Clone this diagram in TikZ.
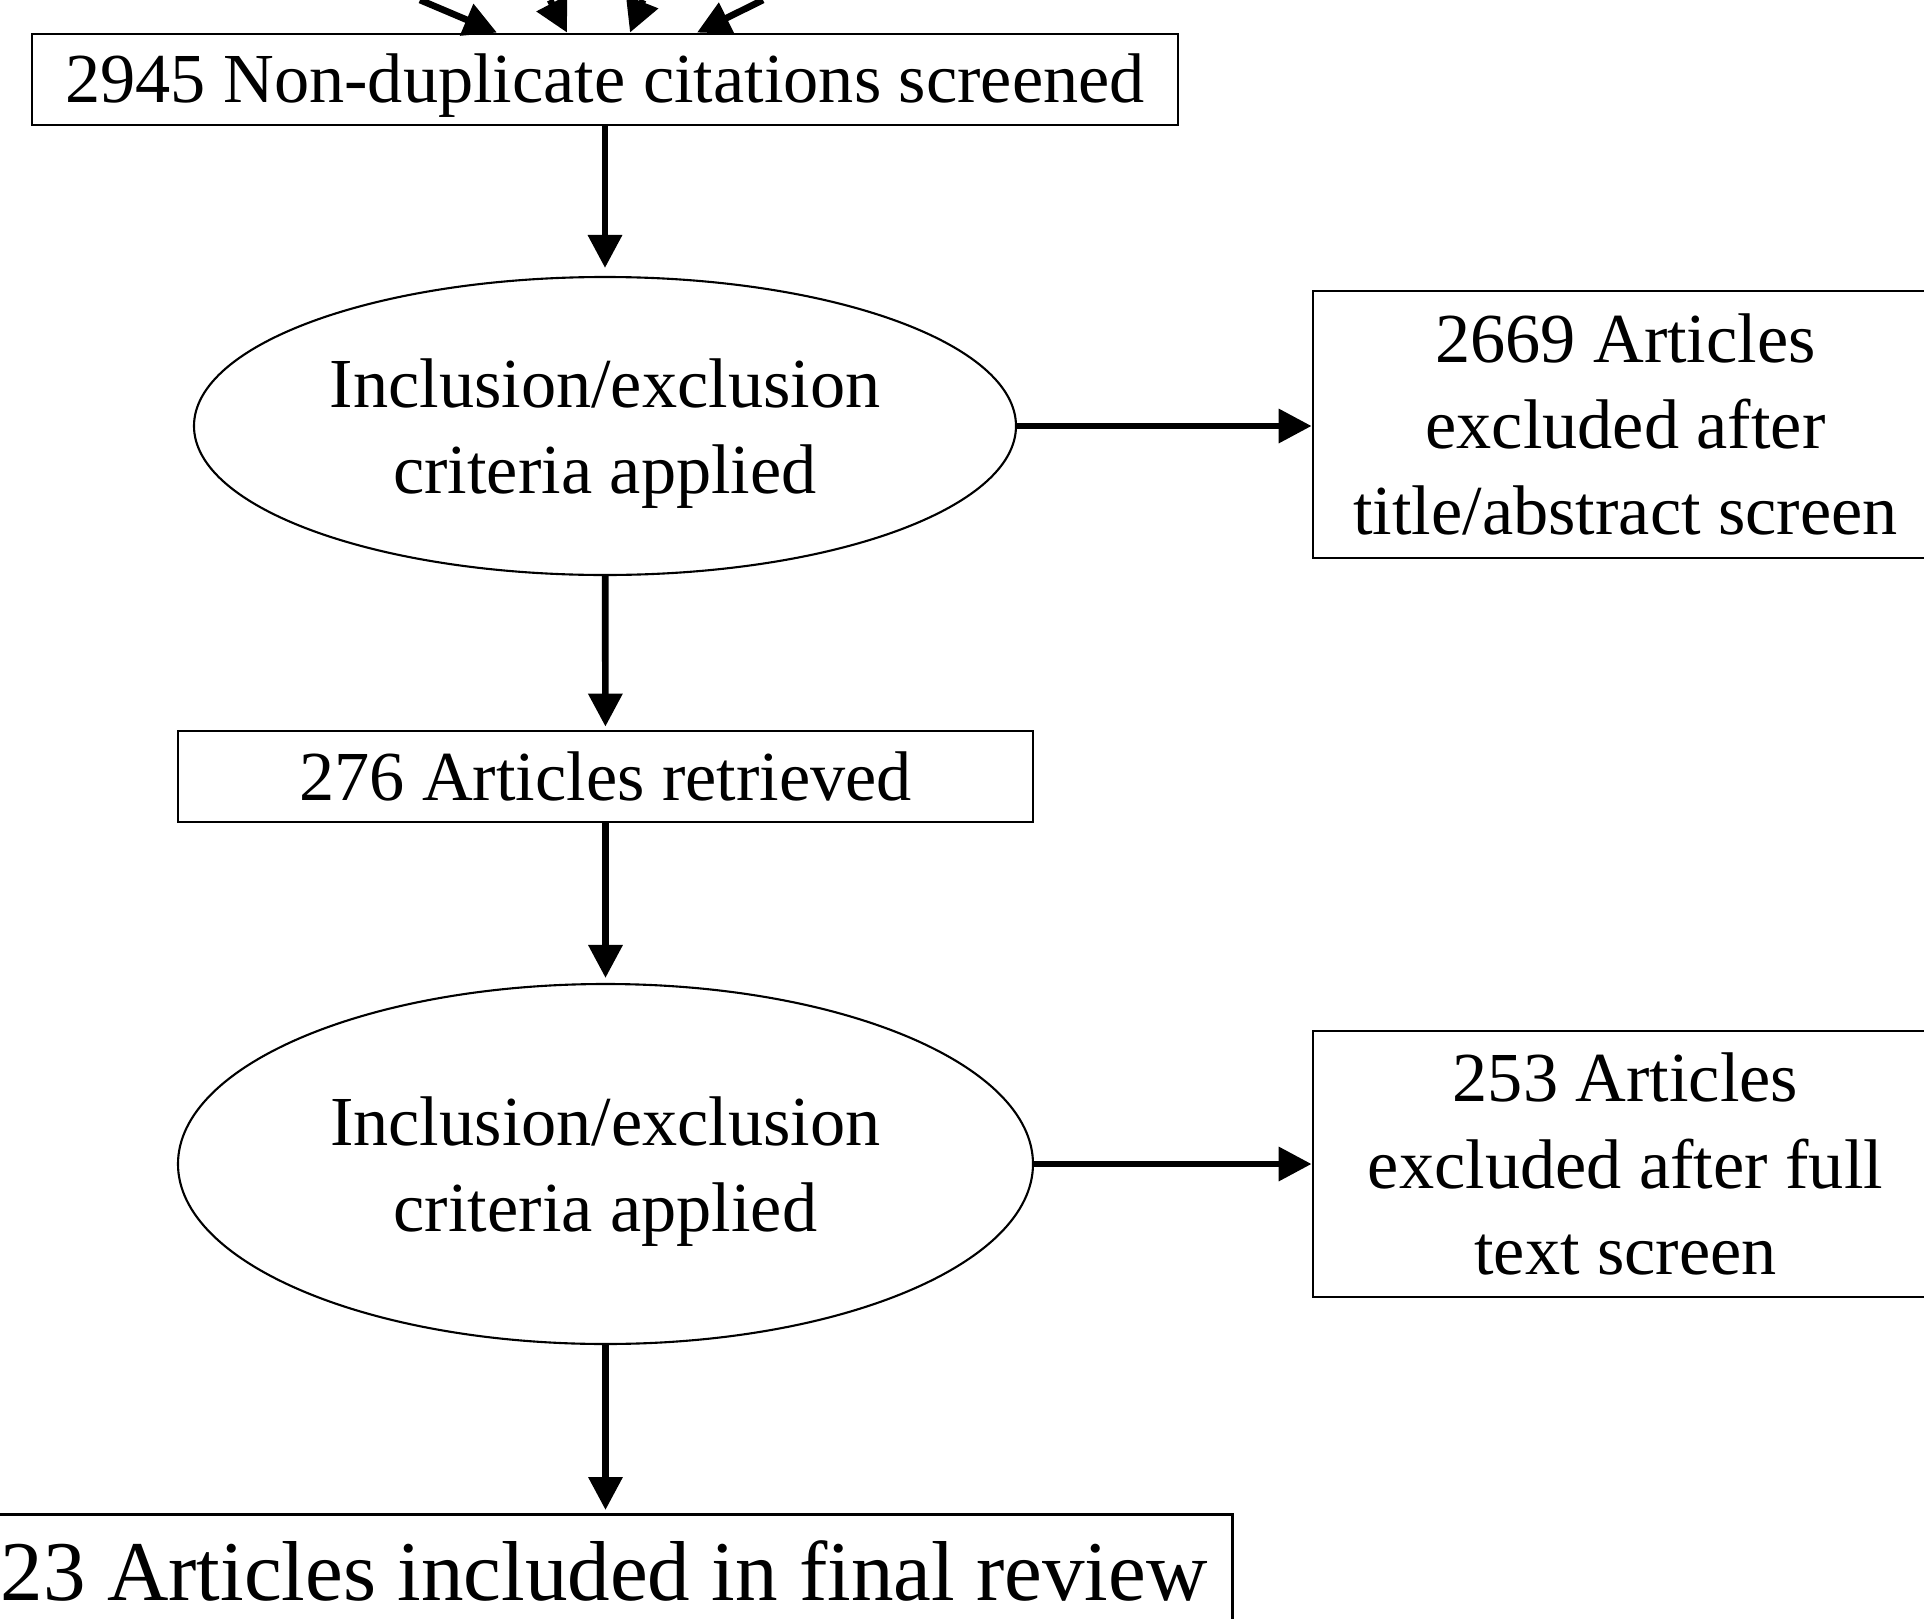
\documentclass[tikz,border=0pt]{standalone}
\usepackage{fontspec}
\setmainfont{Liberation Serif}
\usetikzlibrary{shapes.geometric,arrows.meta}

\begin{document}
\begin{tikzpicture}[
  box/.style={draw,line width=0.8pt,font=\fontsize{20}{24.5}\selectfont,align=center,inner sep=0pt},
  oval/.style={ellipse,draw,line width=0.6pt,font=\fontsize{20}{24.5}\selectfont,align=center,inner sep=0pt,text height=1.5cm},
  arr/.style={-{Triangle[length=0.33cm,width=0.33cm]},line width=1.9pt}
]
\useasboundingbox (0,0) rectangle (19.24,-16.19);
\clip (0,0) rectangle (19.24,-16.19);

% Boxes
\node[box,minimum width=11.46cm,minimum height=0.91cm,text height=0.6cm,text depth=0.15cm] (screen) at (6.05,-0.795) {2945 Non-duplicate citations screened};
\node[oval,minimum width=8.22cm,minimum height=2.98cm] (crit1) at (6.05,-4.26) {Inclusion/exclusion\\criteria applied};
\node[box,minimum width=6.25cm,minimum height=2.67cm] (excl1) at (16.255,-4.245) {2669 Articles\\excluded after\\title/abstract screen};
\node[box,minimum width=8.55cm,minimum height=0.91cm] (retr) at (6.055,-7.765) {276 Articles retrieved};
\node[oval,minimum width=8.55cm,minimum height=3.6cm] (crit2) at (6.055,-11.64) {Inclusion/exclusion\\criteria applied};
\node[box,minimum width=6.25cm,minimum height=2.66cm] (excl2) at (16.255,-11.64) {253 Articles\\excluded after full\\text screen};
\node[box,anchor=north east,font=\fontsize{24.2}{29}\selectfont,inner xsep=0.25cm,inner ysep=0.24cm,text height=0.62cm,text depth=0.2cm] (final) at (12.34,-15.13) {23 Articles included in final review};

% Incoming
\coordinate (in1) at (4.20,0);
\coordinate (in2) at (5.50,0);
\coordinate (in3) at (6.43,0);
\coordinate (in4) at (7.63,0);
\draw[arr] (in1) -- ([xshift=-1.08cm]screen.north);
\draw[arr] (in2) -- ([xshift=-0.38cm]screen.north);
\draw[arr] (in3) -- ([xshift=0.25cm]screen.north);
\draw[arr] (in4) -- ([xshift=0.92cm]screen.north);

% Arrows
\draw[arr,shorten >=0.08cm] (screen) -- (crit1);
\draw[arr] (crit1.east) -- (crit1.east -| excl1.west);
\draw[arr,shorten >=0.03cm] (crit1) -- (retr);
\draw[arr,shorten >=0.05cm] (retr) -- (crit2);
\draw[arr] (crit2.east) -- (crit2.east -| excl2.west);
\draw[arr,shorten >=0.03cm] (crit2.south) -- (crit2.south |- final.north);

\end{tikzpicture}
\end{document}
